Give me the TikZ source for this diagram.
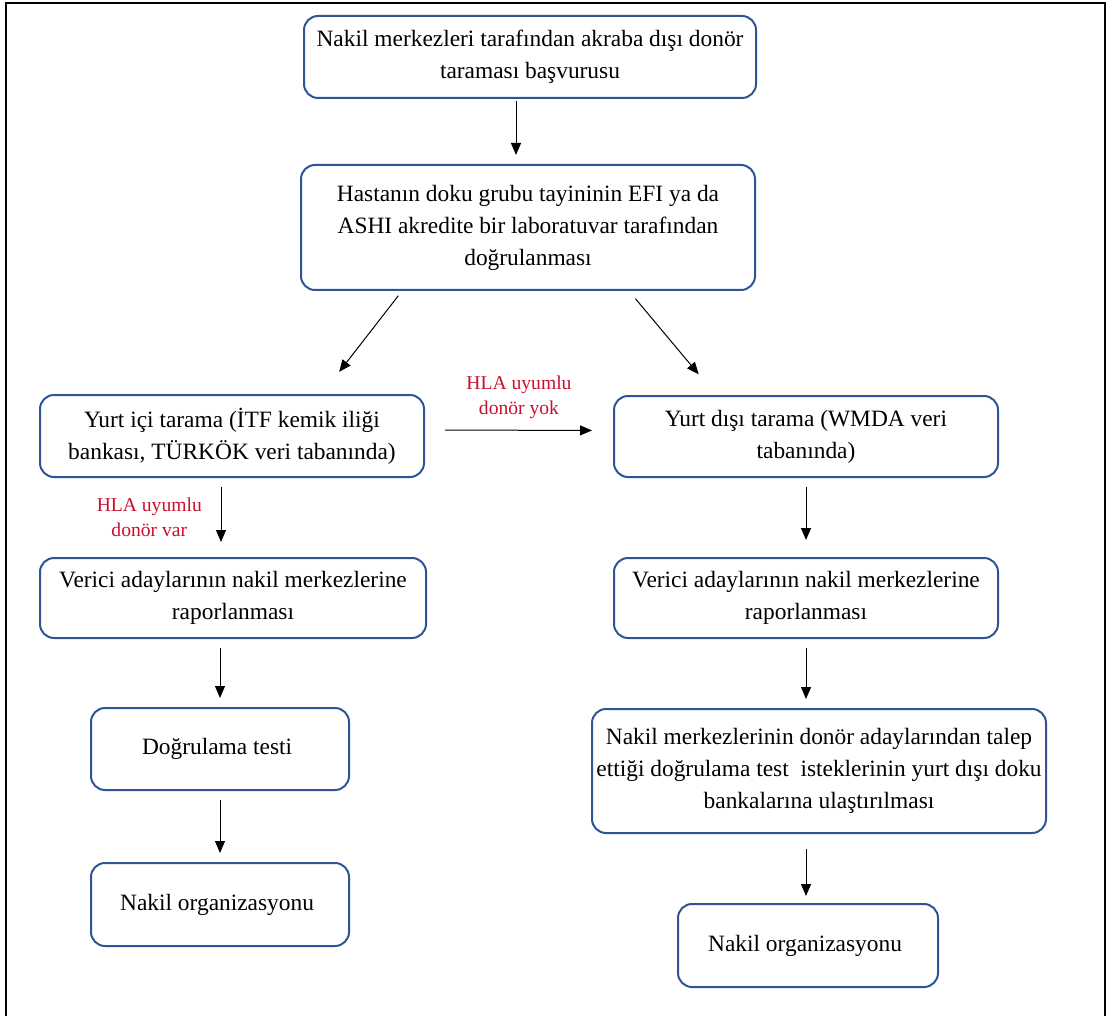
\documentclass[tikz,border=0pt]{standalone}
\usepackage{fontspec}
\setmainfont{Liberation Serif}
\usetikzlibrary{positioning, arrows.meta, calc}
\definecolor{boxColor}{HTML}{2F5597}
\definecolor{condColor}{HTML}{C8102E}
\tikzset{
    flow box/.style={
        rectangle,
        rounded corners=7pt,
        draw=boxColor,
        line width=1pt,
        align=center,
        font=\fontsize{11.7}{16}\selectfont,
        inner sep=2pt,
    },
    flow/.style={
        -{Triangle[length=6pt, width=5pt]},
        line width=0.5pt,
        shorten <=#1,
        shorten >=#1,
    },
    flow/.default=4.5pt,
    cond label/.style={
        font=\fontsize{9.8}{12.5}\selectfont,
        text=condColor,
        align=center,
    },
    frame line/.style={
        line width=1pt,
        black,
    },
}
\newcommand{\flowNode}[4]{%
    \node[flow box, #2] (#1) at (#3) {#4};
}

\begin{document}
\begin{tikzpicture}[x=0.5pt, y=-0.5pt]

\useasboundingbox (0,0) rectangle (1108,1016);

% ── FRAME ──────────────────────────────────────────────────────────

\draw[frame line] (6,1030) |- (1105,3) -- (1105,1030);

% ── TOP: APPLICATION AND VERIFICATION ─────────────────────────────

\flowNode{basvuru}{minimum width=226pt, minimum height=41pt}{530, 57}{%
    Nakil merkezleri tarafından akraba dışı donör\\
    taraması başvurusu
}

\flowNode{hasta}{minimum width=227pt, minimum height=62.5pt}{528, 227.5}{%
    Hastanın doku grubu tayininin EFI ya da\\
    ASHI akredite bir laboratuvar tarafından\\
    doğrulanması
}

% ── LEFT COLUMN: DOMESTIC SEARCH ──────────────────────────────────

\flowNode{yurtici}{minimum width=192pt, minimum height=41pt}{232, 436}{%
    Yurt içi tarama (İTF kemik iliği\\
    bankası, TÜRKÖK veri tabanında)
}

\flowNode{vericiL}{minimum width=193pt, minimum height=40pt}{233, 598}{%
    Verici adaylarının nakil merkezlerine\\
    raporlanması
}

\flowNode{dogrulama}{minimum width=129pt, minimum height=41pt}{220, 749}{%
    Doğrulama testi
}

\flowNode{orgL}{minimum width=129pt, minimum height=41.5pt}{220, 904.5}{%
    Nakil organizasyonu
}

% ── RIGHT COLUMN: INTERNATIONAL SEARCH ────────────────────────────

\flowNode{yurtdisi}{minimum width=192pt, minimum height=40.5pt}{806, 436.5}{%
    Yurt dışı tarama (WMDA veri\\
    tabanında)
}

\flowNode{vericiR}{minimum width=192pt, minimum height=40pt}{806, 598}{%
    Verici adaylarının nakil merkezlerine\\
    raporlanması
}

\flowNode{talep}{minimum width=227pt, minimum height=62pt}{819, 771}{%
    Nakil merkezlerinin donör adaylarından talep\\
    ettiği doğrulama test~ isteklerinin yurt dışı doku\\
    bankalarına ulaştırılması
}

\flowNode{orgR}{minimum width=130pt, minimum height=41.5pt}{808, 945.5}{%
    Nakil organizasyonu
}

% ── CONNECTORS ─────────────────────────────────────────────────────

\draw[flow, shorten <=1pt] ([xshift=-7pt]basvuru.south) -- ([xshift=-7pt]basvuru.south |- hasta.north);

% Split to both searches
\draw[flow, shorten <=3pt, shorten >=14pt] ([xshift=51pt]hasta.south west) -- ([xshift=45pt]yurtici.north);
\draw[flow, shorten <=5pt, shorten >=13.5pt] ([xshift=-63.5pt]hasta.south east) -- ([xshift=-45pt]yurtdisi.north);

% No match at home
\draw[flow, shorten <=10pt, shorten >=10.5pt] ([yshift=3pt]yurtici.east) -- node[cond label, above=2pt] {HLA uyumlu\\donör yok} ([yshift=3pt]yurtdisi.west);

% Left column
\draw[flow, shorten >=7.5pt] ([xshift=-5.5pt]yurtici.south) -- node[cond label, left=6pt] {HLA uyumlu\\donör var} ([xshift=-5.5pt]yurtici.south |- vericiL.north);
\draw[flow] (dogrulama.north |- vericiL.south) -- (dogrulama.north);
\draw[flow] (dogrulama.south) -- (orgL.north);

% Right column
\draw[flow, shorten >=8.5pt] (yurtdisi.south) -- (vericiR.north);
\draw[flow] (vericiR.south) -- (vericiR.south |- talep.north);
\draw[flow, shorten <=7.5pt, shorten >=3.5pt] (vericiR.south |- talep.south) -- (vericiR.south |- orgR.north);

\end{tikzpicture}
\end{document}
